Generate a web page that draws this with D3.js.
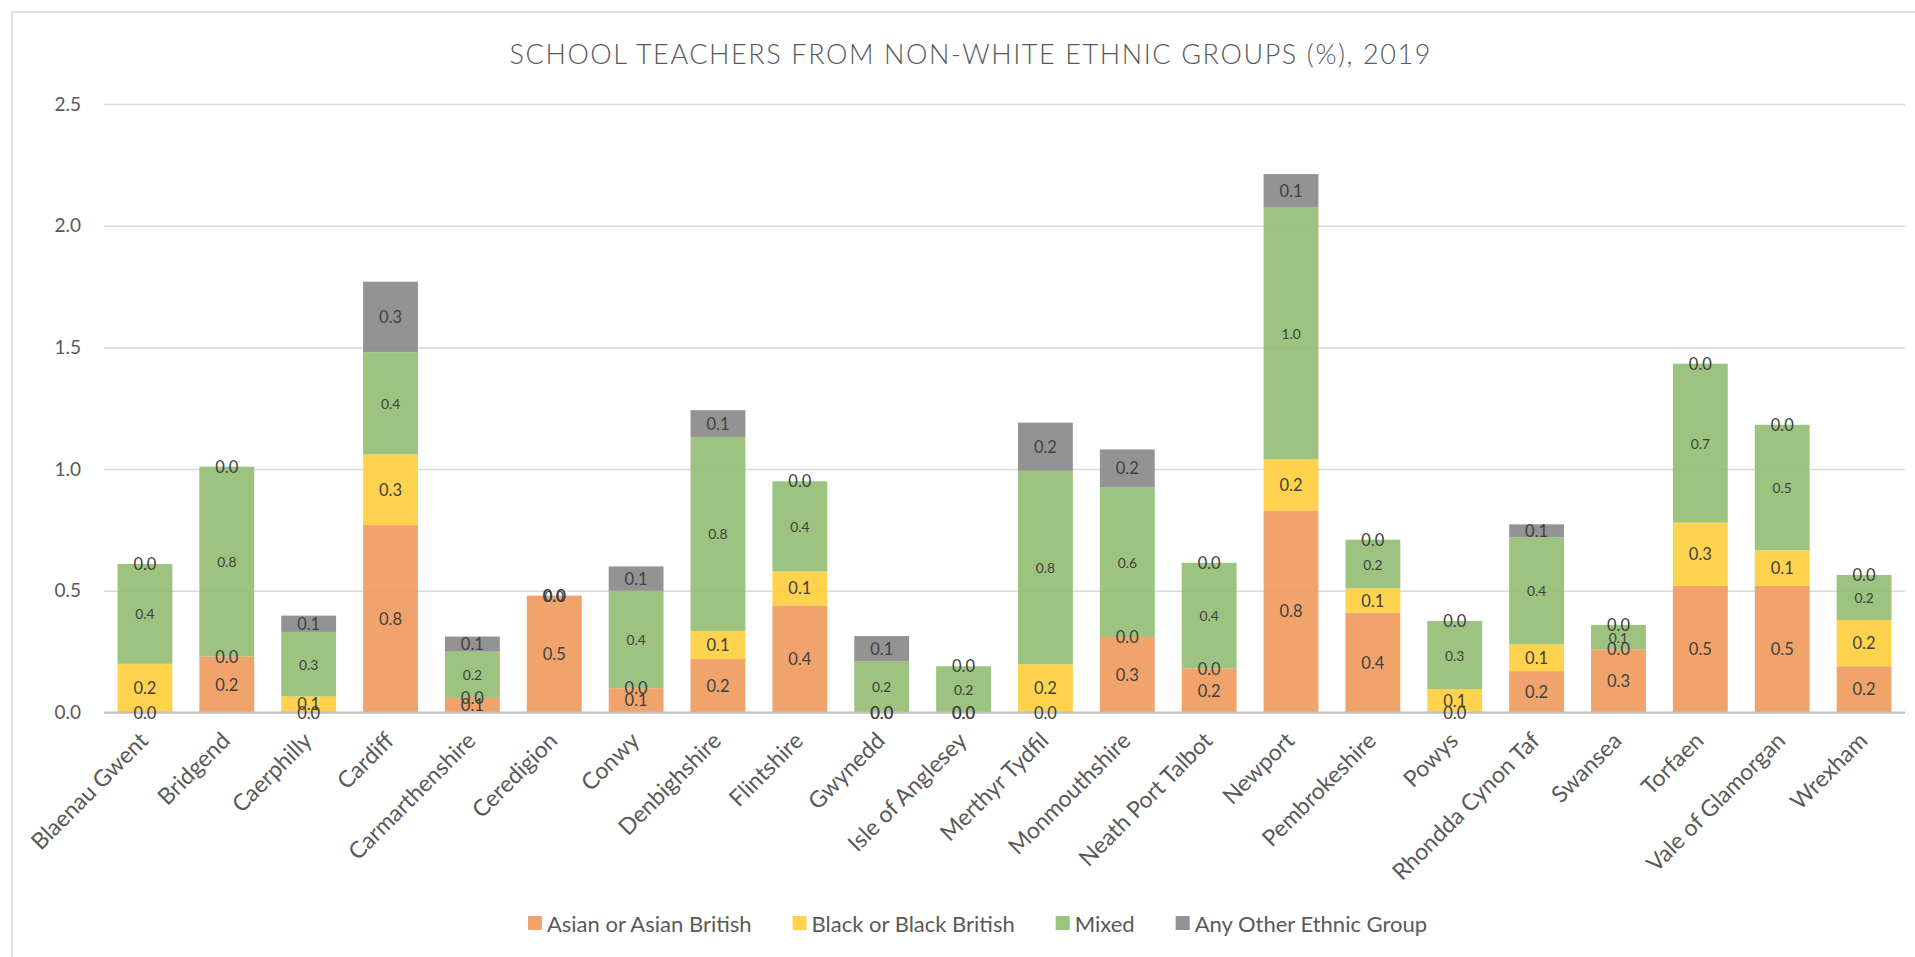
<!DOCTYPE html>
<html>
<head>
<meta charset="utf-8">
<script src="https://cdn.jsdelivr.net/npm/d3@7/dist/d3.min.js"></script>
<style>
  html, body { margin: 0; padding: 0; background: #fff; }
  svg { display: block; font-family: Lato, "Open Sans", "Liberation Sans", sans-serif; }
</style>
</head>
<body>
<svg id="chart" width="1915" height="957"></svg>
<script>
// School teachers from non-white ethnic groups (%), Welsh local authorities, 2019
const categories = [
  "Blaenau Gwent", "Bridgend", "Caerphilly", "Cardiff", "Carmarthenshire", "Ceredigion",
  "Conwy", "Denbighshire", "Flintshire", "Gwynedd", "Isle of Anglesey", "Merthyr Tydfil",
  "Monmouthshire", "Neath Port Talbot", "Newport", "Pembrokeshire", "Powys",
  "Rhondda Cynon Taf", "Swansea", "Torfaen", "Vale of Glamorgan", "Wrexham"
];
const seriesNames = ["Asian or Asian British", "Black or Black British", "Mixed", "Any Other Ethnic Group"];
const asian = [0.00, 0.23, 0.00, 0.77, 0.06, 0.48, 0.10, 0.22, 0.44, 0.00, 0.00, 0.00, 0.31, 0.18, 0.83, 0.41, 0.00, 0.17, 0.26, 0.52, 0.52, 0.19];
const black = [0.20, 0.00, 0.066, 0.29, 0.00, 0.00, 0.00, 0.115, 0.14, 0.00, 0.00, 0.198, 0.00, 0.00, 0.21, 0.10, 0.096, 0.11, 0.00, 0.26, 0.147, 0.19];
const mixed = [0.41, 0.78, 0.265, 0.42, 0.19, 0.00, 0.40, 0.797, 0.37, 0.21, 0.19, 0.795, 0.615, 0.435, 1.035, 0.20, 0.28, 0.44, 0.10, 0.653, 0.515, 0.185];
const other = [0.00, 0.00, 0.067, 0.29, 0.062, 0.00, 0.10, 0.11, 0.00, 0.104, 0.00, 0.198, 0.156, 0.00, 0.137, 0.00, 0.00, 0.053, 0.00, 0.00, 0.00, 0.00];
const yTicks = [0, 0.5, 1.0, 1.5, 2.0, 2.5];
const titleText = "SCHOOL TEACHERS FROM NON-WHITE ETHNIC GROUPS (%), 2019";

const colors = ["#EE9A5C", "#FFCE3A", "#91BD71", "#878787"];
const labelSizes = [16.5, 16.5, 13.8, 16.5];

const svg = d3.select("#chart");

// chart frame
svg.append("rect")
  .attr("x", 12).attr("y", 12).attr("width", 1930).attr("height", 970)
  .attr("fill", "#fff").attr("stroke", "#d9d9d9").attr("stroke-width", 1.5);

// title
svg.append("text")
  .attr("x", 970).attr("y", 64)
  .attr("text-anchor", "middle")
  .attr("textLength", 921).attr("lengthAdjust", "spacing")
  .style("font-size", "27px").style("font-weight", 300)
  .attr("fill", "#595959")
  .text(titleText);

const plotLeft = 104, plotRight = 1905, plotTop = 104, plotBottom = 712.5;

const x = d3.scaleBand().domain(categories).range([plotLeft, plotRight]).paddingInner(0.33).paddingOuter(0.165);
const y = d3.scaleLinear().domain([0, 2.5]).range([plotBottom, plotTop]);

// value gridlines + tick labels
const yAxis = svg.append("g")
  .attr("transform", `translate(${plotLeft},0)`)
  .call(d3.axisLeft(y).tickValues(yTicks).tickFormat(d3.format(".1f"))
    .tickSize(-(plotRight - plotLeft)).tickPadding(23));
yAxis.select(".domain").remove();
yAxis.selectAll(".tick line").attr("stroke", "#d9d9d9").attr("stroke-width", 1.5);
yAxis.selectAll(".tick text")
  .attr("fill", "#595959").style("font-size", "19px")
  .style("font-family", "Lato, 'Open Sans', sans-serif");

// stacked data
const rows = categories.map((c, i) => ({
  cat: c,
  [seriesNames[0]]: asian[i],
  [seriesNames[1]]: black[i],
  [seriesNames[2]]: mixed[i],
  [seriesNames[3]]: other[i]
}));
const stacked = d3.stack().keys(seriesNames)(rows);

const layers = svg.append("g").selectAll("g")
  .data(stacked).join("g")
  .attr("fill", (d, i) => colors[i])
  .attr("fill-opacity", 0.9);

layers.selectAll("rect")
  .data(d => d)
  .join("rect")
  .attr("x", d => x(d.data.cat))
  .attr("width", x.bandwidth())
  .attr("y", d => y(d[1]))
  .attr("height", d => y(d[0]) - y(d[1]));

// category axis (baseline + rotated labels)
const xAxis = svg.append("g")
  .attr("transform", `translate(0,${plotBottom})`)
  .call(d3.axisBottom(x).tickSize(0).tickSizeOuter(0));
xAxis.select(".domain").attr("stroke", "#bfbfbf").attr("stroke-width", 2)
  .attr("d", `M${plotLeft},0H${plotRight}`);
xAxis.selectAll(".tick text")
  .attr("y", 0).attr("x", 0).attr("dy", "0.35em")
  .attr("transform", "translate(-1,24) rotate(-45)")
  .attr("text-anchor", "end")
  .attr("fill", "#595959").style("font-size", "23px")
  .style("font-family", "Lato, 'Open Sans', sans-serif");

// segment value labels
const fmt = d3.format(".1f");
const labelG = svg.append("g");
stacked.forEach((layer, si) => {
  labelG.append("g").selectAll("text")
    .data(layer).join("text")
    .attr("x", d => x(d.data.cat) + x.bandwidth() / 2)
    .attr("y", d => (y(d[0]) + y(d[1])) / 2)
    .attr("text-anchor", "middle")
    .attr("dominant-baseline", "central")
    .attr("fill", "#404040")
    .style("font-size", labelSizes[si] + "px")
    .text(d => fmt(d[1] - d[0]));
});

// legend
const legend = svg.append("g").attr("transform", "translate(0,923)");
const items = [];
seriesNames.forEach((name, i) => {
  const g = legend.append("g");
  g.append("rect").attr("x", 0).attr("y", -7).attr("width", 14).attr("height", 14).attr("fill", colors[i]).attr("fill-opacity", 0.9);
  const t = g.append("text").attr("x", 19).attr("y", 0).attr("dominant-baseline", "central")
    .attr("fill", "#595959").style("font-size", "22px").text(name);
  const w = 19 + t.node().getComputedTextLength();
  items.push({ g, w });
});
const gap = 41;
const total = d3.sum(items, d => d.w) + gap * (items.length - 1);
let startX = 977.5 - total / 2;
items.forEach(it => {
  it.g.attr("transform", `translate(${startX},0)`);
  startX += it.w + gap;
});
</script>
</body>
</html>
